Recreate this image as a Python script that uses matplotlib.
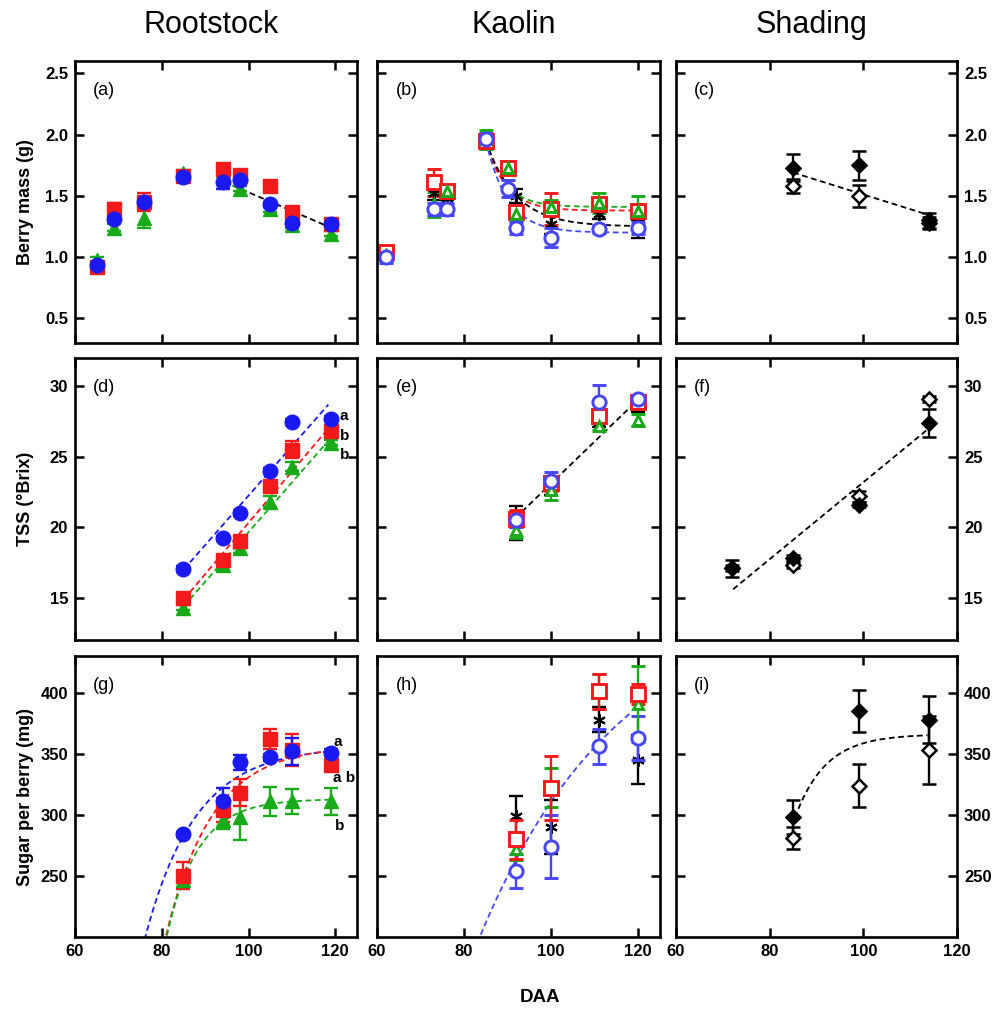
import numpy as np
import matplotlib
matplotlib.use('Agg')
import matplotlib.pyplot as plt

plt.rcParams['font.family'] = ['Liberation Sans', 'DejaVu Sans']

RED = '#f21a1a'
GREEN = '#18aa18'
BLUE = '#1a1af0'
LBLUE = '#4646f5'

# ---------------- Rootstock (a, d, g) ----------------
root_x_mass = [65, 69, 76, 85, 94, 98, 105, 110, 119]
root_mass_red = [0.92, 1.39, 1.45, 1.66, 1.72, 1.67, 1.58, 1.37, 1.27]
root_mass_red_err = [0.02, 0.05, 0.07, 0.02, 0.03, 0.02, 0.02, 0.02, 0.02]
root_mass_green = [0.98, 1.24, 1.32, 1.69, 1.71, 1.56, 1.39, 1.26, 1.19]
root_mass_green_err = [0.02, 0.03, 0.08, 0.02, 0.05, 0.02, 0.02, 0.02, 0.02]
root_mass_blue = [0.94, 1.31, 1.45, 1.65, 1.61, 1.63, 1.43, 1.28, 1.27]
root_mass_blue_err = [0.02, 0.02, 0.02, 0.02, 0.05, 0.02, 0.02, 0.02, 0.02]
root_mass_fit = (3.049, -0.0152)          # intercept, slope
root_mass_fit_range = (96.3, 118.5)

root_x = [85, 94, 98, 105, 110, 119]
root_tss_blue = [17.05, 19.2, 21.0, 24.0, 27.45, 27.7]
root_tss_blue_err = [0.2, 0.2, 0.2, 0.2, 0.2, 0.2]
root_tss_red = [15.0, 17.65, 19.0, 22.9, 25.5, 26.8]
root_tss_red_err = [0.2, 0.3, 0.3, 0.3, 0.6, 0.4]
root_tss_green = [14.3, 17.3, 18.5, 21.8, 24.3, 26.0]
root_tss_green_err = [0.2, 0.3, 0.3, 0.4, 0.3, 0.2]
root_tss_fit_blue = (-12.86, 0.351)
root_tss_fit_red = (-16.09, 0.364)
root_tss_fit_green = (-15.55, 0.352)
root_tss_fit_ranges = [(86.5, 118.4), (86.5, 119.5), (86.5, 119.2)]
root_tss_letters = ['a', 'b', 'b']
root_tss_letter_y = [27.9, 26.5, 25.1]

root_sugar_blue = [284, 311, 343, 347, 352, 351]
root_sugar_blue_err = [2, 11, 6, 3, 11, 3]
root_sugar_red = [250, 304, 318, 362, 353, 341]
root_sugar_red_err = [11, 10, 11, 8, 13, 3]
root_sugar_green = [247, 296, 298, 311, 311, 311]
root_sugar_green_err = [6, 8, 19, 12, 10, 11]
# saturating fits: (plateau, x0, y0, rate)
root_sugar_fit_blue = (356, 76.2, 200, 0.086)
root_sugar_fit_red = (357, 80.9, 200, 0.0935)
root_sugar_fit_green = (313, 81.1, 200, 0.138)
root_sugar_letters = ['a', 'a b', 'b']
root_sugar_letter_y = [360, 330, 291]

# ---------------- Kaolin (b, e, h) ----------------
kao_x = [62, 73, 76, 85, 90, 92, 100, 111, 120]
kao_x_black = [62, 73, 76, 85, 92, 100, 111, 120]
kao_mass_red = [1.04, 1.61, 1.54, 1.95, 1.73, 1.37, 1.39, 1.43, 1.38]
kao_mass_red_err = [0.05, 0.11, 0.04, 0.03, 0.04, 0.05, 0.13, 0.04, 0.05]
kao_mass_green = [1.02, 1.43, 1.54, 1.96, 1.73, 1.35, 1.41, 1.44, 1.38]
kao_mass_green_err = [0.05, 0.10, 0.05, 0.08, 0.05, 0.05, 0.06, 0.08, 0.12]
kao_mass_blue = [1.00, 1.39, 1.39, 1.96, 1.56, 1.24, 1.16, 1.23, 1.24]
kao_mass_blue_err = [0.05, 0.05, 0.05, 0.05, 0.07, 0.05, 0.08, 0.03, 0.05]
kao_mass_black = [1.02, 1.52, 1.43, 1.95, 1.50, 1.27, 1.35, 1.23]
kao_mass_black_err = [0.04, 0.05, 0.04, 0.04, 0.06, 0.08, 0.04, 0.07]
# exponential decay fits: (plateau, start value, rate) from day 85
kao_mass_fit_green = (1.41, 1.95, 0.23)
kao_mass_fit_red = (1.38, 1.95, 0.22)
kao_mass_fit_black = (1.25, 1.95, 0.147)
kao_mass_fit_blue = (1.20, 1.95, 0.20)

kao_x2 = [92, 100, 111, 120]
kao_tss_red = [20.6, 23.1, 27.9, 28.9]
kao_tss_red_err = [0.6, 0.5, 0.3, 0.3]
kao_tss_green = [19.8, 22.65, 27.2, 27.6]
kao_tss_green_err = [0.6, 0.7, 0.3, 0.4]
kao_tss_blue = [20.5, 23.3, 28.9, 29.1]
kao_tss_blue_err = [0.5, 0.6, 1.2, 0.2]
kao_tss_black = [20.3, 22.9, 27.4, 28.5]
kao_tss_black_err = [1.2, 0.6, 0.3, 0.3]
kao_tss_fit = (-6.70, 0.298)
kao_tss_fit_range = (93.3, 119.5)

kao_sugar_red = [280, 322, 401, 399]
kao_sugar_red_err = [16, 26, 14, 8]
kao_sugar_green = [272, 322, 401, 391]
kao_sugar_green_err = [9, 16, 14, 31]
kao_sugar_blue = [254, 274, 356, 363]
kao_sugar_blue_err = [14, 26, 14, 18]
kao_sugar_black = [299, 290, 378, 345]
kao_sugar_black_err = [16, 22, 10, 20]
kao_sugar_fit_blue = (480, 83.6, 200, 0.0307)
kao_sugar_fit_range = (83.0, 118.5)

# ---------------- Shading (c, f, i) ----------------
sh_x = [85, 99, 114]
sh_mass_filled = [1.73, 1.75, 1.30]
sh_mass_filled_err = [0.11, 0.12, 0.06]
sh_mass_open = [1.58, 1.50, 1.28]
sh_mass_open_err = [0.06, 0.09, 0.05]
sh_mass_fit = (2.704, -0.01193)
sh_mass_fit_range = (85, 113.5)

sh_x_tss = [72, 85, 99, 114]
sh_tss_filled = [17.1, 17.8, 21.6, 27.4]
sh_tss_filled_err = [0.6, 0.2, 0.2, 1.0]
sh_tss_open = [17.1, 17.3, 22.2, 29.1]
sh_tss_open_err = [0.2, 0.2, 0.4, 0.2]
sh_tss_fit = (-4.11, 0.273)
sh_tss_fit_range = (72.2, 113.9)

sh_sugar_filled = [298, 385, 378]
sh_sugar_filled_err = [14, 17, 19]
sh_sugar_open = [281, 324, 353]
sh_sugar_open_err = [9, 18, 28]
sh_sugar_fit = (366, 85.4, 297.7, 0.152)
sh_sugar_fit_range = (85.4, 113.7)

col_titles = ['Rootstock', 'Kaolin', 'Shading']
row_labels = ['Berry mass (g)', 'TSS (\u00b0Brix)', 'Sugar per berry (mg)']
panel_tags = ['(a)', '(b)', '(c)', '(d)', '(e)', '(f)', '(g)', '(h)', '(i)']
x_ticks = [60, 80, 100, 120]
row_yticks = [[0.5, 1.0, 1.5, 2.0, 2.5], [15, 20, 25, 30], [250, 300, 350, 400]]
row_ylims = [(0.3, 2.6), (12, 32), (200, 430)]
col_xlims = [(60, 125), (60, 125), (60, 120)]

# ---------------- figure layout ----------------
W, H = 1005, 1010
fig = plt.figure(figsize=(W / 100, H / 100), dpi=100)

col_px = [(75, 357), (377, 660), (676, 957)]
row_px = [(61, 343), (358, 640), (656, 937)]

MS = 10.5
EB = dict(capsize=4.8, elinewidth=1.7, capthick=1.7, ls='none')
DASH = (0, (3.2, 2.0))

axes = [[None] * 3 for _ in range(3)]
for r, (top, bot) in enumerate(row_px):
    for c, (left, right) in enumerate(col_px):
        ax = fig.add_axes([left / W, 1 - bot / H, (right - left) / W, (bot - top) / H])
        ax.set_xlim(*col_xlims[c])
        ax.set_ylim(*row_ylims[r])
        ax.set_xticks(x_ticks)
        ax.set_yticks(row_yticks[r])
        for s in ax.spines.values():
            s.set_linewidth(1.9)
        ax.tick_params(direction='in', length=6.5, width=1.8, top=True, right=True,
                       labelsize=12, pad=5)
        ax.tick_params(labelbottom=(r == 2), labelleft=(c == 0), labelright=(c == 2))
        for lab in ax.get_xticklabels() + ax.get_yticklabels():
            lab.set_fontweight('bold')
        ax.yaxis.set_major_formatter(plt.FormatStrFormatter('%.1f' if r == 0 else '%d'))
        ax.text(0.065, 0.895, panel_tags[r * 3 + c], transform=ax.transAxes,
                fontsize=13, va='center', ha='left')
        axes[r][c] = ax


def line(ax, fit, rng, color):
    xs = np.linspace(rng[0], rng[1], 50)
    ax.plot(xs, fit[0] + fit[1] * xs, ls=DASH, color=color, lw=1.3, zorder=1)


def saturating(ax, fit, rng, color):
    a, x0, y0, k = fit
    xs = np.linspace(rng[0], rng[1], 200)
    ax.plot(xs, a - (a - y0) * np.exp(-k * (xs - x0)), ls=DASH, color=color, lw=1.3, zorder=1)


def decay(ax, fit, rng, color, x0=85):
    p, y0, k = fit
    xs = np.linspace(rng[0], rng[1], 200)
    ax.plot(xs, p + (y0 - p) * np.exp(-k * (xs - x0)), ls=DASH, color=color, lw=1.3, zorder=1)


# ---- (a) ----
ax = axes[0][0]
line(ax, root_mass_fit, root_mass_fit_range, 'black')
ax.errorbar(root_x_mass, root_mass_green, root_mass_green_err, fmt='^', color=GREEN, ms=MS, **EB)
ax.errorbar(root_x_mass, root_mass_red, root_mass_red_err, fmt='s', color=RED, ms=MS - 0.5, **EB)
ax.errorbar(root_x_mass, root_mass_blue, root_mass_blue_err, fmt='o', color=BLUE, ms=MS, **EB)

# ---- (d) ----
ax = axes[1][0]
for fit, rng, col in zip([root_tss_fit_blue, root_tss_fit_red, root_tss_fit_green],
                         root_tss_fit_ranges, [BLUE, RED, GREEN]):
    line(ax, fit, rng, col)
ax.errorbar(root_x, root_tss_green, root_tss_green_err, fmt='^', color=GREEN, ms=MS, **EB)
ax.errorbar(root_x, root_tss_red, root_tss_red_err, fmt='s', color=RED, ms=MS - 0.5, **EB)
ax.errorbar(root_x, root_tss_blue, root_tss_blue_err, fmt='o', color=BLUE, ms=MS, **EB)
for t, yy in zip(root_tss_letters, root_tss_letter_y):
    ax.text(121.0, yy, t, fontsize=11, fontweight='bold', ha='left', va='center')

# ---- (g) ----
ax = axes[2][0]
saturating(ax, root_sugar_fit_blue, (75.5, 119.5), BLUE)
saturating(ax, root_sugar_fit_red, (80.5, 119.5), RED)
saturating(ax, root_sugar_fit_green, (80.7, 119.5), GREEN)
ax.errorbar(root_x, root_sugar_green, root_sugar_green_err, fmt='^', color=GREEN, ms=MS, **EB)
ax.errorbar(root_x, root_sugar_red, root_sugar_red_err, fmt='s', color=RED, ms=MS - 0.5, **EB)
ax.errorbar(root_x, root_sugar_blue, root_sugar_blue_err, fmt='o', color=BLUE, ms=MS, **EB)
for t, yy, xx in zip(root_sugar_letters, root_sugar_letter_y, [119.5, 119.5, 120.0]):
    ax.text(xx, yy, t, fontsize=11, fontweight='bold', ha='left', va='center')

# ---- (b) ----
ax = axes[0][1]
decay(ax, kao_mass_fit_green, (85, 120), GREEN)
decay(ax, kao_mass_fit_red, (85, 120), RED)
decay(ax, kao_mass_fit_black, (85, 120), 'black')
decay(ax, kao_mass_fit_blue, (85, 120), LBLUE)
OPEN = dict(mfc='white', mew=2.1)
OMS = 9.5
ax.errorbar(kao_x, kao_mass_red, kao_mass_red_err, fmt='s', color=RED, ms=OMS, **OPEN, **EB)
ax.errorbar(kao_x, kao_mass_green, kao_mass_green_err, fmt='^', color=GREEN, ms=OMS - 3, **OPEN, **EB)
ax.errorbar(kao_x_black, kao_mass_black, kao_mass_black_err, fmt='none', ecolor='black',
            capsize=4.8, elinewidth=1.7, capthick=1.7)
ax.plot(kao_x_black, kao_mass_black, ls='none', marker=(6, 2, 0), color='black', ms=9, mew=1.5)
ax.errorbar(kao_x, kao_mass_blue, kao_mass_blue_err, fmt='o', color=LBLUE, ms=OMS, **OPEN, **EB)

# ---- (e) ----
ax = axes[1][1]
line(ax, kao_tss_fit, kao_tss_fit_range, 'black')
ax.errorbar(kao_x2, kao_tss_black, kao_tss_black_err, fmt='none', ecolor='black',
            capsize=4.8, elinewidth=1.7, capthick=1.7)
ax.plot(kao_x2, kao_tss_black, ls='none', marker=(6, 2, 0), color='black', ms=9, mew=1.5)
ax.errorbar(kao_x2, kao_tss_red, kao_tss_red_err, fmt='s', color=RED, ms=OMS, **OPEN, **EB)
ax.errorbar(kao_x2, kao_tss_green, kao_tss_green_err, fmt='^', color=GREEN, ms=OMS - 3, **OPEN, **EB)
ax.errorbar(kao_x2, kao_tss_blue, kao_tss_blue_err, fmt='o', color=LBLUE, ms=OMS, **OPEN, **EB)

# ---- (h) ----
ax = axes[2][1]
saturating(ax, kao_sugar_fit_blue, kao_sugar_fit_range, LBLUE)
ax.errorbar(kao_x2, kao_sugar_black, kao_sugar_black_err, fmt='none', ecolor='black',
            capsize=4.8, elinewidth=1.7, capthick=1.7)
ax.plot(kao_x2, kao_sugar_black, ls='none', marker=(6, 2, 0), color='black', ms=9, mew=1.5)
ax.errorbar(kao_x2, kao_sugar_blue, kao_sugar_blue_err, fmt='o', color=LBLUE, ms=OMS, **OPEN, **EB)
ax.errorbar(kao_x2, kao_sugar_green, kao_sugar_green_err, fmt='^', color=GREEN, ms=OMS - 3, **OPEN, **EB)
ax.errorbar(kao_x2, kao_sugar_red, kao_sugar_red_err, fmt='s', color=RED, ms=OMS, **OPEN, **EB)

# ---- (c), (f), (i) ----
DIA = dict(color='black', ms=7.5, mew=1.8, **EB)
ax = axes[0][2]
line(ax, sh_mass_fit, sh_mass_fit_range, 'black')
ax.errorbar(sh_x, sh_mass_open, sh_mass_open_err, fmt='D', mfc='white', **DIA)
ax.errorbar(sh_x, sh_mass_filled, sh_mass_filled_err, fmt='D', **DIA)

ax = axes[1][2]
line(ax, sh_tss_fit, sh_tss_fit_range, 'black')
ax.errorbar(sh_x_tss, sh_tss_open, sh_tss_open_err, fmt='D', mfc='white', **DIA)
ax.errorbar(sh_x_tss, sh_tss_filled, sh_tss_filled_err, fmt='D', **DIA)

ax = axes[2][2]
saturating(ax, sh_sugar_fit, sh_sugar_fit_range, 'black')
ax.errorbar(sh_x, sh_sugar_open, sh_sugar_open_err, fmt='D', mfc='white', **DIA)
ax.errorbar(sh_x, sh_sugar_filled, sh_sugar_filled_err, fmt='D', **DIA)

# ---- titles and axis labels ----
for c, t in enumerate(col_titles):
    cx = (col_px[c][0] + col_px[c][1]) / 2 - 5
    fig.text(cx / W, 1 - 25 / H, t, fontsize=22, ha='center', va='center')
for r, t in enumerate(row_labels):
    cy = (row_px[r][0] + row_px[r][1]) / 2
    fig.text(26 / W, 1 - cy / H, t, fontsize=13, fontweight='bold', rotation=90,
             ha='center', va='center')
fig.text(540 / W, 1 - 997 / H, 'DAA', fontsize=13.5, fontweight='bold', ha='center', va='center')

fig.savefig('out.png', dpi=100)
